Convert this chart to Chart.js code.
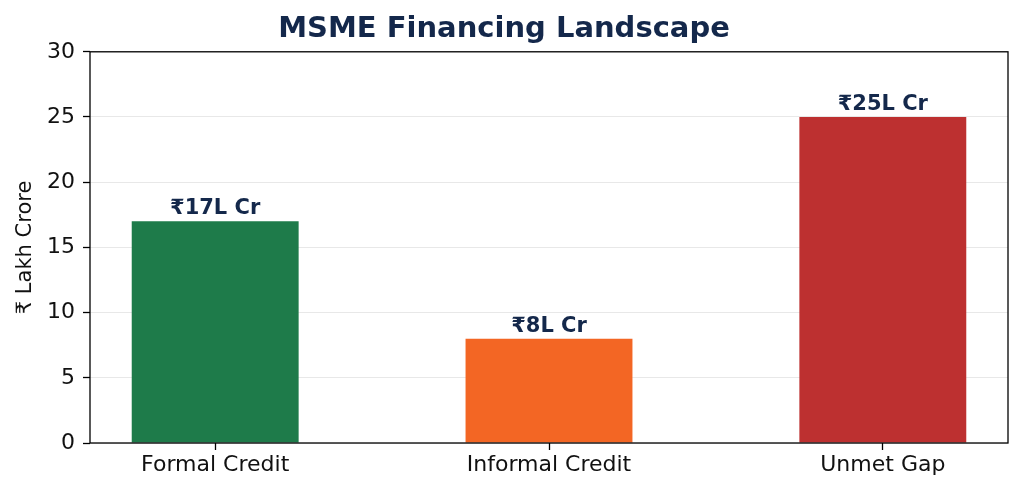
<!DOCTYPE html>
<html>
<head>
<meta charset="utf-8">
<script src="https://cdn.jsdelivr.net/npm/chart.js@4"></script>
<style>
  html, body { margin: 0; padding: 0; background: #fff; }
  #wrap { width: 1024px; height: 496px; }
</style>
</head>
<body>
<div id="wrap"><canvas id="financeChart" width="1024" height="496"></canvas></div>
<script>
var categories = ['Formal Credit', 'Informal Credit', 'Unmet Gap'];
var amounts = [17, 8, 25];
var valueLabels = ['₹17L Cr', '₹8L Cr', '₹25L Cr'];
var barColors = ['#1e7b4a', '#f36624', '#bd3030'];
var yTicks = [0, 5, 10, 15, 20, 25, 30];

var navy = '#14284b';

// frame round the plot area, like a matplotlib axes box
var framePlugin = {
	id: 'frame',
	afterDraw: function(chart) {
		var a = chart.chartArea, ctx = chart.ctx;
		ctx.save();
		ctx.strokeStyle = '#000';
		ctx.lineWidth = 1.3;
		ctx.strokeRect(a.left, a.top, a.right - a.left, a.bottom - a.top);
		ctx.restore();
	}
};

// value labels above each bar
var labelPlugin = {
	id: 'valueLabels',
	afterDatasetsDraw: function(chart) {
		var ctx = chart.ctx;
		var meta = chart.getDatasetMeta(0);
		ctx.save();
		ctx.font = 'bold 21px "DejaVu Sans"';
		ctx.fillStyle = navy;
		ctx.textAlign = 'center';
		ctx.textBaseline = 'bottom';
		meta.data.forEach(function(bar, i) {
			ctx.fillText(valueLabels[i], bar.x, bar.y - 2);
		});
		ctx.restore();
	}
};

var config = {
	type: 'bar',
	data: {
		datasets: [{
			data: categories.map(function(c, i) { return { x: i, y: amounts[i] }; }),
			backgroundColor: barColors,
			borderWidth: 0,
			categoryPercentage: 1.0,
			barPercentage: 0.5
		}]
	},
	options: {
		responsive: false,
		animation: false,
		layout: { padding: { left: 0, right: 16, top: 0, bottom: 0 } },
		plugins: {
			legend: { display: false },
			tooltip: { enabled: false },
			title: {
				display: true,
				text: 'MSME Financing Landscape',
				color: navy,
				font: { family: 'DejaVu Sans', size: 29, weight: 'bold', lineHeight: 1.2 },
				padding: { top: 12, bottom: 5 }
			}
		},
		scales: {
			x: {
				type: 'linear',
				min: -0.375,
				max: 2.375,
				offset: false,
				afterBuildTicks: function(scale) {
					scale.ticks = categories.map(function(c, i) { return { value: i }; });
				},
				afterFit: function(scale) { scale.height = 53; },
				ticks: {
					color: '#111',
					font: { family: 'DejaVu Sans', size: 22 },
					padding: 2,
					maxRotation: 0,
					callback: function(v) { return categories[v]; }
				},
				grid: { offset: false, drawOnChartArea: false, tickLength: 7, tickColor: '#000', tickWidth: 1.3 },
				border: { display: false }
			},
			y: {
				min: 0,
				max: 30,
				z: 1,
				afterBuildTicks: function(scale) {
					scale.ticks = yTicks.map(function(v) { return { value: v }; });
				},
				afterFit: function(scale) { scale.width = 90; },
				ticks: {
					color: '#111',
					font: { family: 'DejaVu Sans', size: 22 },
					padding: 8
				},
				title: {
					display: true,
					text: '₹ Lakh Crore',
					color: '#111',
					font: { family: 'DejaVu Sans', size: 21 },
					padding: { top: 13, bottom: 4 }
				},
				grid: { color: 'rgba(0,0,0,0.09)', tickLength: 7, tickColor: '#000', tickWidth: 1.3 },
				border: { display: false }
			}
		}
	},
	plugins: [framePlugin, labelPlugin]
};

window.onload = function() {
	var ctx = document.getElementById('financeChart').getContext('2d');
	window.financeChart = new Chart(ctx, config);
};
</script>
</body>
</html>
